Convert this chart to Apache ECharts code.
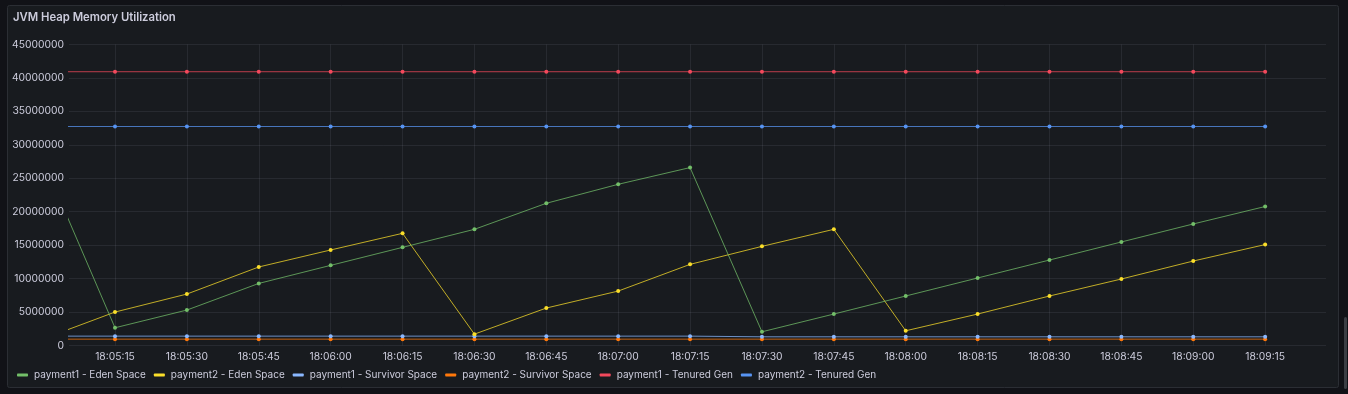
<!DOCTYPE html>
<html>
<head>
<meta charset="utf-8">
<script src="https://cdn.jsdelivr.net/npm/echarts@6/dist/echarts.min.js"></script>
<style>
  html, body { margin: 0; padding: 0; background: #111217; }
  #chart { width: 1348px; height: 394px; }
</style>
</head>
<body>
<div id="chart"></div>
<script>
// Sample times (HH:MM:SS); the first one lies just before the visible window
const times = ['18:05:00','18:05:15','18:05:30','18:05:45','18:06:00','18:06:15','18:06:30','18:06:45',
  '18:07:00','18:07:15','18:07:30','18:07:45','18:08:00','18:08:15','18:08:30','18:08:45','18:09:00','18:09:15'];
const windowStart = '18:05:05.4';
const windowEnd = '18:09:27.7';
const xTickLabels = ['18:05:15','18:05:30','18:05:45','18:06:00','18:06:15','18:06:30','18:06:45',
  '18:07:00','18:07:15','18:07:30','18:07:45','18:08:00','18:08:15','18:08:30','18:08:45','18:09:00','18:09:15'];

const seriesNames = ['payment1 - Eden Space','payment2 - Eden Space','payment1 - Survivor Space',
  'payment2 - Survivor Space','payment1 - Tenured Gen','payment2 - Tenured Gen'];
const seriesColors = ['#73BF69','#FADE2A','#8AB8FF','#FF780A','#F2495C','#5794F2'];

const payment1Eden = [27640000, 2650000, 5300000, 9280000, 11980000, 14670000, 17370000, 21260000,
  24100000, 26600000, 2050000, 4700000, 7400000, 10090000, 12780000, 15480000, 18170000, 20780000];
const payment2Eden = [990000, 5000000, 7690000, 11740000, 14280000, 16770000, 1700000, 5600000,
  8140000, 12130000, 14820000, 17370000, 2200000, 4700000, 7400000, 9940000, 12630000, 15090000];
const payment1Survivor = [1400000, 1400000, 1400000, 1400000, 1400000, 1400000, 1400000, 1400000,
  1400000, 1400000, 1300000, 1300000, 1300000, 1300000, 1300000, 1300000, 1300000, 1300000];
const payment2Survivor = [950000, 950000, 950000, 950000, 950000, 950000, 950000, 950000,
  950000, 950000, 950000, 950000, 950000, 950000, 950000, 950000, 950000, 950000];
const payment1Tenured = [40930000, 40930000, 40930000, 40930000, 40930000, 40930000, 40930000, 40930000,
  40930000, 40930000, 40930000, 40930000, 40930000, 40930000, 40930000, 40930000, 40930000, 40930000];
const payment2Tenured = [32740000, 32740000, 32740000, 32740000, 32740000, 32740000, 32740000, 32740000,
  32740000, 32740000, 32740000, 32740000, 32740000, 32740000, 32740000, 32740000, 32740000, 32740000];

const yTicks = [0, 5000000, 10000000, 15000000, 20000000, 25000000, 30000000, 35000000, 40000000, 45000000];

// seconds since midnight
function toSec(s) {
  const [h, m, sec] = s.split(':');
  return (+h) * 3600 + (+m) * 60 + parseFloat(sec);
}
function pad(n) { return String(n).padStart(2, '0'); }
function fmt(v) {
  const t = Math.round(v);
  return pad(Math.floor(t / 3600)) + ':' + pad(Math.floor((t % 3600) / 60)) + ':' + pad(t % 60);
}

const allValues = [payment1Eden, payment2Eden, payment1Survivor, payment2Survivor, payment1Tenured, payment2Tenured];
const series = allValues.map((vals, i) => ({
  name: seriesNames[i],
  type: 'line',
  data: times.map((t, j) => [toSec(t), vals[j]]),
  symbol: 'circle',
  symbolSize: 4,
  showSymbol: true,
  clip: true,
  color: seriesColors[i],
  lineStyle: { width: 1, opacity: 0.75 },
  itemStyle: { color: seriesColors[i] },
  z: 2 + (5 - i)
}));

const xTickValues = xTickLabels.map(toSec);
const chart = echarts.init(document.getElementById('chart'));
chart.setOption({
  backgroundColor: '#111217',
  animation: false,
  textStyle: { fontFamily: 'Inter, sans-serif' },
  graphic: [
    { type: 'rect', shape: { x: 7.5, y: 5.5, width: 1331, height: 382, r: 2 },
      style: { fill: '#181b1f', stroke: '#2b2e34', lineWidth: 1 }, z: -10, silent: true },
    { type: 'rect', shape: { x: 1344, y: 317, width: 3, height: 72, r: 1.5 },
      style: { fill: '#3b3e44' }, z: -5, silent: true }
  ],
  title: {
    text: 'JVM Heap Memory Utilization',
    left: 13, top: 12, padding: 0,
    textStyle: { color: '#ccccdc', fontSize: 11.3, fontWeight: 600, fontFamily: 'Inter, sans-serif' }
  },
  legend: {
    left: 17, top: 370, padding: 0,
    icon: 'roundRect',
    itemWidth: 11, itemHeight: 3,
    itemGap: 8,
    textStyle: { color: '#ccccdc', fontSize: 10, padding: [0, 0, 0, 1] },
    data: seriesNames
  },
  grid: { left: 69, right: 22, top: 44.5, bottom: 48.5, containLabel: false },
  xAxis: {
    type: 'value',
    min: toSec(windowStart),
    max: toSec(windowEnd),
    axisLine: { show: false },
    axisTick: { show: false, customValues: xTickValues },
    splitLine: { show: true, lineStyle: { color: 'rgba(204,204,220,0.09)', width: 1 } },
    axisLabel: {
      color: '#ccccdc', fontSize: 10.3, margin: 6,
      customValues: xTickValues,
      hideOverlap: false,
      formatter: fmt
    }
  },
  yAxis: {
    type: 'value',
    min: yTicks[0], max: yTicks[yTicks.length - 1], interval: yTicks[1] - yTicks[0],
    axisLine: { show: false },
    axisTick: { show: false },
    splitLine: { show: true, lineStyle: { color: 'rgba(204,204,220,0.09)', width: 1 } },
    axisLabel: { color: '#ccccdc', fontSize: 10.3, margin: 5, formatter: function (v) { return String(v); } }
  },
  series: series
});
</script>
</body>
</html>
